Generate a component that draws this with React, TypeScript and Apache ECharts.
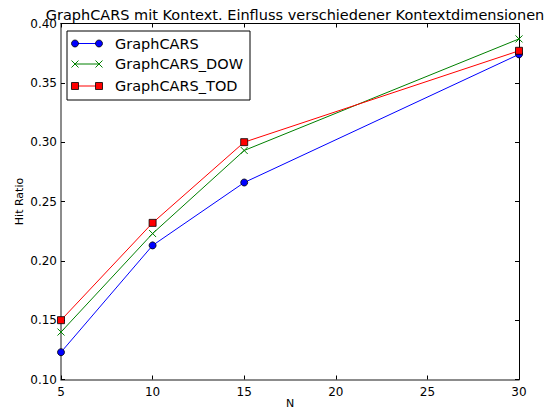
import React, { useEffect, useRef } from "react";
import * as echarts from "echarts";

const xValues = [5, 10, 15, 30];
const seriesNames = ["GraphCARS", "GraphCARS_DOW", "GraphCARS_TOD"];
const graphCars = [0.123, 0.213, 0.266, 0.374];
const graphCarsDow = [0.14, 0.223, 0.293, 0.387];
const graphCarsTod = [0.15, 0.232, 0.3, 0.377];
const seriesColors = ["#0000ff", "#008000", "#ff0000"];

const FONT = "DejaVu Sans";

const pairs = (ys: number[]) => xValues.map((x, i) => [x, ys[i]]);

export default function App() {
  const ref = useRef<HTMLDivElement>(null);

  useEffect(() => {
    if (!ref.current) return;
    const chart = echarts.init(ref.current, null, { renderer: "svg" });

    const gridLeft = 61;
    const gridRight = 36;
    const gridTop = 23.5;
    const gridBottom = 31.5;

    const tickLabel = { fontFamily: FONT, fontSize: 12, color: "#000" };

    // legend drawn as matplotlib-style entries: a line with a marker at each end
    const legendX = 67;
    const legendY = 31;
    const rowY = [43.5, 64, 86];
    const lineX0 = 75;
    const lineX1 = 99;
    const legendChildren: any[] = [
      {
        type: "rect",
        shape: { x: legendX, y: legendY, width: 183, height: 69 },
        style: { fill: "#fff", stroke: "#000", lineWidth: 1 },
      },
    ];
    rowY.forEach((y, i) => {
      const c = seriesColors[i];
      legendChildren.push({
        type: "line",
        shape: { x1: lineX0, y1: y, x2: lineX1, y2: y },
        style: { stroke: c, lineWidth: 1 },
      });
      [lineX0, lineX1].forEach((mx) => {
        if (i === 0) {
          legendChildren.push({
            type: "circle",
            shape: { cx: mx, cy: y, r: 3.5 },
            style: { fill: c, stroke: "#000", lineWidth: 0.8 },
          });
        } else if (i === 1) {
          legendChildren.push({
            type: "polyline",
            shape: { points: [[mx - 3.5, y - 3.5], [mx + 3.5, y + 3.5]] },
            style: { stroke: c, lineWidth: 1, fill: null },
          });
          legendChildren.push({
            type: "polyline",
            shape: { points: [[mx - 3.5, y + 3.5], [mx + 3.5, y - 3.5]] },
            style: { stroke: c, lineWidth: 1, fill: null },
          });
        } else {
          legendChildren.push({
            type: "rect",
            shape: { x: mx - 3.5, y: y - 3.5, width: 7, height: 7 },
            style: { fill: c, stroke: "#000", lineWidth: 0.8 },
          });
        }
      });
      legendChildren.push({
        type: "text",
        x: 115,
        y,
        style: {
          text: seriesNames[i],
          fontFamily: FONT,
          fontSize: 14.5,
          fill: "#000",
          textVerticalAlign: "middle",
          verticalAlign: "middle",
        },
      });
    });

    const crossPath = "path://M0,0L10,10M10,0L0,10";

    chart.setOption({
      animation: false,
      backgroundColor: "#fff",
      title: {
        text: "GraphCARS mit Kontext. Einfluss verschiedener Kontextdimensionen",
        left: 290,
        textAlign: "center",
        top: 2,
        textStyle: { fontFamily: FONT, fontSize: 14.5, fontWeight: "normal", color: "#000" },
      },
      grid: {
        left: gridLeft,
        right: gridRight,
        top: gridTop,
        bottom: gridBottom,
        containLabel: false,
        outerBoundsMode: "none",
      },
      xAxis: [
        {
          type: "value",
          min: 5,
          max: 30,
          interval: 5,
          position: "bottom",
          name: "N",
          nameLocation: "middle",
          nameGap: 18,
          nameMoveOverlap: false,
          nameTextStyle: { fontFamily: FONT, fontSize: 11, color: "#000" },
          axisLine: { show: true, onZero: false, lineStyle: { color: "#666", width: 1.5 } },
          axisTick: { show: true, inside: true, length: 4, lineStyle: { color: "#000" } },
          axisLabel: { ...tickLabel, margin: 6 },
          splitLine: { show: false },
        },
        {
          type: "value",
          min: 5,
          max: 30,
          interval: 5,
          position: "top",
          axisLine: { show: true, onZero: false, lineStyle: { color: "#000", width: 1 } },
          axisTick: { show: true, inside: true, length: 4, lineStyle: { color: "#000" } },
          axisLabel: { show: false },
          splitLine: { show: false },
        },
      ],
      yAxis: [
        {
          type: "value",
          min: 0.1,
          max: 0.4,
          interval: 0.05,
          position: "left",
          name: "Hit Ratio",
          nameLocation: "middle",
          nameGap: 36,
          nameMoveOverlap: false,
          nameRotate: 90,
          nameTextStyle: { fontFamily: FONT, fontSize: 11, color: "#000" },
          axisLine: { show: true, onZero: false, lineStyle: { color: "#666", width: 1.5 } },
          axisTick: { show: true, inside: true, length: 4, lineStyle: { color: "#000" } },
          axisLabel: { ...tickLabel, margin: 4, formatter: (v: number) => v.toFixed(2) },
          splitLine: { show: false },
        },
        {
          type: "value",
          min: 0.1,
          max: 0.4,
          interval: 0.05,
          position: "right",
          axisLine: { show: true, onZero: false, lineStyle: { color: "#000", width: 1 } },
          axisTick: { show: true, inside: true, length: 4, lineStyle: { color: "#000" } },
          axisLabel: { show: false },
          splitLine: { show: false },
        },
      ],
      series: [
        {
          name: seriesNames[0],
          type: "line",
          data: pairs(graphCars),
          symbol: "circle",
          symbolSize: 7,
          lineStyle: { color: seriesColors[0], width: 1 },
          itemStyle: { color: seriesColors[0], borderColor: "#000", borderWidth: 0.8 },
          z: 3,
        },
        {
          name: seriesNames[1],
          type: "line",
          data: pairs(graphCarsDow),
          symbol: crossPath,
          symbolSize: 7,
          lineStyle: { color: seriesColors[1], width: 1 },
          itemStyle: { color: "none", borderColor: seriesColors[1], borderWidth: 1 },
          z: 4,
        },
        {
          name: seriesNames[2],
          type: "line",
          data: pairs(graphCarsTod),
          symbol: "rect",
          symbolSize: 7,
          lineStyle: { color: seriesColors[2], width: 1 },
          itemStyle: { color: seriesColors[2], borderColor: "#000", borderWidth: 0.8 },
          z: 5,
        },
      ],
      graphic: [{ type: "group", z: 100, children: legendChildren }],
    });

    return () => chart.dispose();
  }, []);

  return <div ref={ref} style={{ width: 555, height: 411, position: "absolute", left: 0, top: 0 }} />;
}
